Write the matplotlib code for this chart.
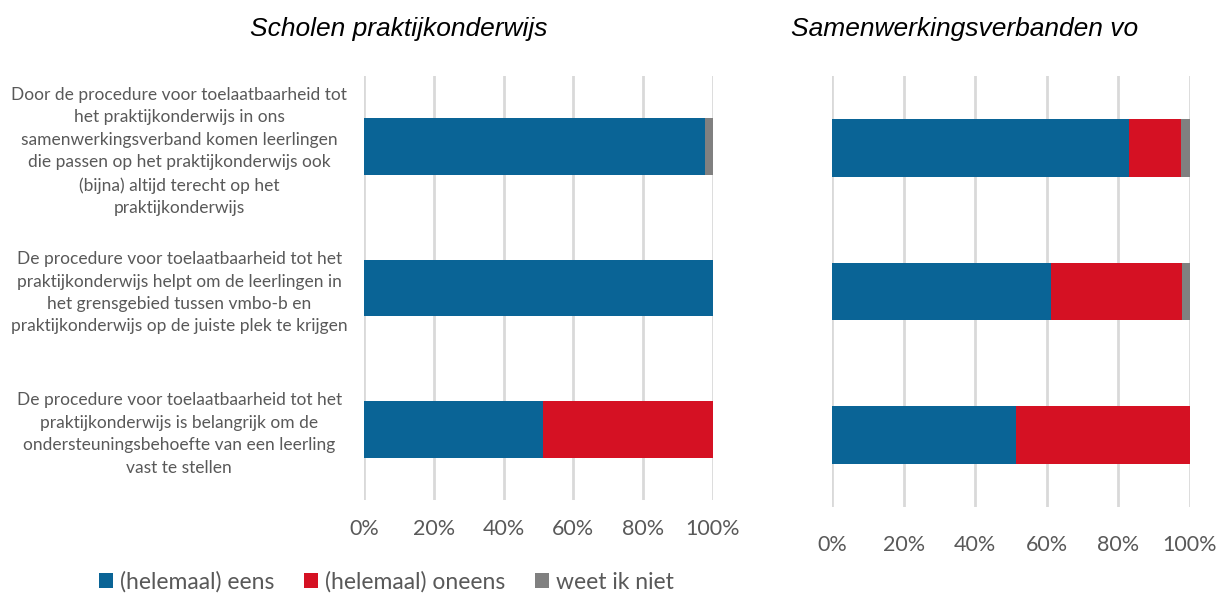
import matplotlib
matplotlib.use("Agg")
import matplotlib.pyplot as plt
from matplotlib.patches import Patch

categories = [
    "Door de procedure voor toelaatbaarheid tot\nhet praktijkonderwijs in ons\nsamenwerkingsverband komen leerlingen\ndie passen op het praktijkonderwijs ook\n(bijna) altijd terecht op het\npraktijkonderwijs",
    "De procedure voor toelaatbaarheid tot het\npraktijkonderwijs helpt om de leerlingen in\nhet grensgebied tussen vmbo-b en\npraktijkonderwijs op de juiste plek te krijgen",
    "De procedure voor toelaatbaarheid tot het\npraktijkonderwijs is belangrijk om de\nondersteuningsbehoefte van een leerling\nvast te stellen",
]
series_names = ["(helemaal) eens", "(helemaal) oneens", "weet ik niet"]
colors = ["#0A6496", "#D51123", "#808080"]

# Scholen praktijkonderwijs
pro_eens = [97.7, 100.0, 51.3]
pro_oneens = [0.0, 0.0, 48.7]
pro_weet = [2.3, 0.0, 0.0]

# Samenwerkingsverbanden vo
swv_eens = [82.9, 61.1, 51.3]
swv_oneens = [14.6, 36.7, 48.7]
swv_weet = [2.5, 2.2, 0.0]

titles = ["Scholen praktijkonderwijs", "Samenwerkingsverbanden vo"]
xticks = [0, 20, 40, 60, 80, 100]
xticklabels = ["0%", "20%", "40%", "60%", "80%", "100%"]

W, H = 1218, 593
fig = plt.figure(figsize=(W / 100, H / 100), dpi=100)

def px_axes(x0, x1, y0, y1):
    return fig.add_axes([x0 / W, 1 - y1 / H, (x1 - x0) / W, (y1 - y0) / H])

ax1 = px_axes(364, 713, 76, 500)
ax2 = px_axes(832, 1190, 76, 507)

text_gray = "#595959"
label_font = "Lato"

def draw(ax, eens, oneens, weet, tickpad, show_labels):
    y = list(range(len(categories)))
    left = [0] * len(y)
    for vals, col in zip([eens, oneens, weet], colors):
        ax.barh(y, vals, left=left, height=0.40, color=col, edgecolor="none", zorder=3)
        left = [a + b for a, b in zip(left, vals)]
    ax.set_xlim(0, 100)
    ax.set_ylim(len(y) - 0.5, -0.5)
    ax.set_xticks(xticks)
    ax.set_xticklabels(xticklabels, fontsize=15.5, color=text_gray, family=label_font)
    ax.tick_params(axis="x", length=0, pad=tickpad)
    ax.grid(axis="x", color="#D9D9D9", linewidth=2, zorder=0)
    for s in ax.spines.values():
        s.set_visible(False)
    ax.set_yticks(y)
    if show_labels:
        ax.set_yticklabels(categories, fontsize=12.5, color=text_gray, family=label_font,
                           ha="center", multialignment="center", linespacing=1.5)
        ax.tick_params(axis="y", length=0, pad=133)
    else:
        ax.set_yticklabels([])
        ax.tick_params(axis="y", length=0)

draw(ax1, pro_eens, pro_oneens, pro_weet, 14, True)
draw(ax2, swv_eens, swv_oneens, swv_weet, 20, False)

fig.text(399 / W, 1 - 29 / H, titles[0], fontsize=19, style="italic",
         family="Liberation Sans", color="black", ha="center", va="center")
fig.text(965 / W, 1 - 29 / H, titles[1], fontsize=19, style="italic",
         family="Liberation Sans", color="black", ha="center", va="center")

handles = [Patch(facecolor=c, edgecolor="none") for c in colors]
leg = fig.legend(handles, series_names, loc="center left", bbox_to_anchor=(78 / W, 1 - 582 / H),
                 ncol=3, frameon=False, handlelength=0.62, handleheight=0.62,
                 handletextpad=0.3, columnspacing=1.3, prop={"family": label_font, "size": 16.5})
for t in leg.get_texts():
    t.set_color(text_gray)

fig.savefig("out.png", dpi=100)
